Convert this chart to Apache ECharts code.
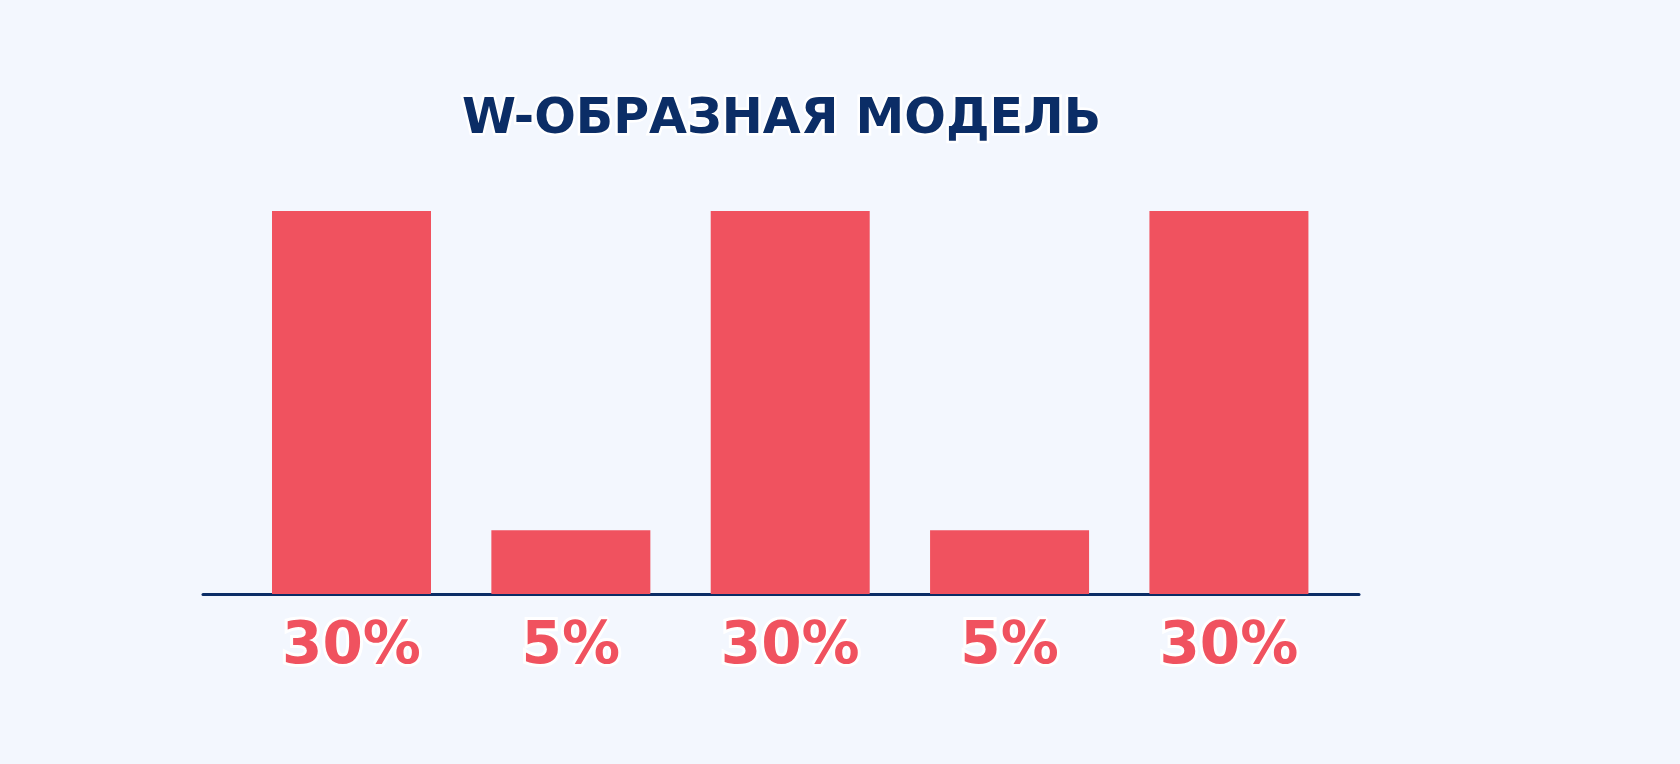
<!DOCTYPE html>
<html>
<head>
<meta charset="utf-8">
<script src="https://cdn.jsdelivr.net/npm/echarts@6/dist/echarts.min.js"></script>
<style>
  html, body { margin: 0; padding: 0; background: #f3f7fe; }
  #container { width: 1680px; height: 764px; }
</style>
</head>
<body>
<div id="container"></div>
<script>
// datos del modelo W
var titulo = 'W-ОБРАЗНАЯ МОДЕЛЬ';
var etapas = [0, 1, 2, 3, 4];
var valores = [30, 5, 30, 5, 30];

document.addEventListener('DOMContentLoaded', function () {
    var dom = document.getElementById('container');
    var myChart = echarts.init(dom);

    var option = {
        backgroundColor: '#f3f7fe',
        title: {
            text: titulo,
            left: 457,
            top: 91,
            textStyle: {
                fontFamily: 'DejaVu Sans',
                fontWeight: 'bold',
                fontSize: 49,
                lineHeight: 49,
                color: '#0b2d66',
                textBorderColor: '#ffffff',
                textBorderWidth: 5
            }
        },
        grid: {
            left: 203,
            right: 321,
            top: 211,
            bottom: 170
        },
        xAxis: {
            type: 'value',
            min: -0.677,
            max: 4.593,
            splitLine: { show: false },
            axisTick: { show: false },
            axisLabel: { show: false },
            axisLine: {
                show: true,
                lineStyle: { color: '#0b2d66', width: 3 }
            }
        },
        yAxis: {
            type: 'value',
            min: 0,
            max: 30,
            show: false,
            splitLine: { show: false }
        },
        series: [
            {
                type: 'bar',
                barWidth: 159,
                data: etapas.map(function (e, i) { return [e, valores[i]]; }),
                itemStyle: { color: '#f0525f' },
                label: {
                    show: true,
                    position: 'bottom',
                    distance: 25,
                    formatter: function (p) { return p.value[1] + '%'; },
                    fontFamily: 'DejaVu Sans',
                    fontWeight: 'bold',
                    fontSize: 58,
                    lineHeight: 58,
                    color: '#f0525f',
                    textBorderColor: '#ffffff',
                    textBorderWidth: 6
                },
                silent: true
            }
        ]
    };

    myChart.setOption(option);
    window.addEventListener('resize', myChart.resize);
});
</script>
</body>
</html>
